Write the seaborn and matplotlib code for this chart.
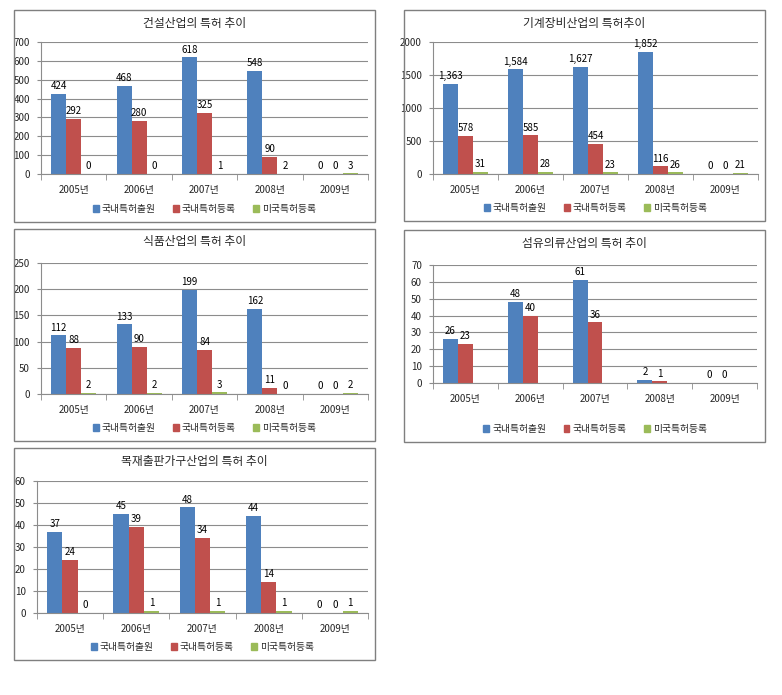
import matplotlib
matplotlib.use("Agg")
import matplotlib.pyplot as plt
import matplotlib.patches as mpatches
import seaborn as sns
import pandas as pd
import numpy as np

sns.set_style("white")
plt.rcParams['font.family'] = ['Noto Sans CJK KR', 'DejaVu Sans']

years = ["2005년", "2006년", "2007년", "2008년", "2009년"]
series = ["국내특허출원", "국내특허등록", "미국특허등록"]
colors = ["#4F81BD", "#C0504D", "#9BBB59"]

# 건설산업
con_app = [424, 468, 618, 548, 0]
con_reg = [292, 280, 325, 90, 0]
con_us = [0, 0, 1, 2, 3]
# 기계장비산업
mach_app = [1363, 1584, 1627, 1852, 0]
mach_reg = [578, 585, 454, 116, 0]
mach_us = [31, 28, 23, 26, 21]
# 식품산업
food_app = [112, 133, 199, 162, 0]
food_reg = [88, 90, 84, 11, 0]
food_us = [2, 2, 3, 0, 2]
# 섬유의류산업 (미국특허등록 없음)
tex_app = [26, 48, 61, 2, 0]
tex_reg = [23, 40, 36, 1, 0]
tex_us = [np.nan] * 5
# 목재출판가구산업
wood_app = [37, 45, 48, 44, 0]
wood_reg = [24, 39, 34, 14, 0]
wood_us = [0, 1, 1, 1, 1]

panels = [
    ("건설산업의 특허 추이", con_app, con_reg, con_us, 700, 100, "{:.0f}"),
    ("기계장비산업의 특허추이", mach_app, mach_reg, mach_us, 2000, 500, "{:,.0f}"),
    ("식품산업의 특허 추이", food_app, food_reg, food_us, 250, 50, "{:.0f}"),
    ("섬유의류산업의 특허 추이", tex_app, tex_reg, tex_us, 70, 10, "{:.0f}"),
    ("목재출판가구산업의 특허 추이", wood_app, wood_reg, wood_us, 60, 10, "{:.0f}"),
]

W, H = 782, 695
# (left, top, right, bottom) in pixels: panel frame, then plot area
frames = [(14, 10, 375, 222), (404, 10, 765, 221), (14, 229, 375, 441),
          (404, 230, 765, 442), (14, 448, 375, 660)]
areas = [(41, 42, 368, 174), (433, 42, 758, 174), (41, 263, 368, 394),
         (433, 265, 757, 383), (37, 481, 368, 613)]

fig = plt.figure(figsize=(W / 100, H / 100), dpi=100)

for i, (title, app, reg, us, ymax, step, fmt) in enumerate(panels):
    fl, ft, fr, fb = frames[i]
    fig.patches.append(mpatches.Rectangle((fl / W, 1 - fb / H), (fr - fl) / W, (fb - ft) / H,
                                          transform=fig.transFigure, fill=False,
                                          edgecolor="#7f7f7f", lw=1.0))
    l, t, r, b = areas[i]
    ax = fig.add_axes([l / W, 1 - b / H, (r - l) / W, (b - t) / H])

    df = pd.DataFrame({
        "year": years * 3,
        "series": [s for s in series for _ in years],
        "value": list(app) + list(reg) + list(us),
    })
    sns.barplot(data=df, x="year", y="value", hue="series", hue_order=series,
                palette=colors, width=0.69, ax=ax, legend=False, saturation=1,
                errorbar=None, linewidth=0)

    for cont in ax.containers:
        ax.bar_label(cont, fmt=fmt, padding=2, fontsize=7, color="black")

    ax.set_ylim(0, ymax)
    ax.set_yticks(np.arange(0, ymax + step, step))
    ax.set_xlim(-0.5, 4.5)
    ax.yaxis.grid(True, color="#8c8c8c", lw=0.8)
    ax.set_axisbelow(True)
    for s in ["top", "right"]:
        ax.spines[s].set_visible(False)
    ax.spines["left"].set_color("#8c8c8c")
    ax.spines["bottom"].set_color("#8c8c8c")
    ax.set_xlabel("")
    ax.set_ylabel("")
    ax.tick_params(axis="y", labelsize=7, length=3, color="#8c8c8c", pad=5, left=True)
    ax.tick_params(axis="x", labelsize=7, length=0, pad=8)
    ax.set_xticks(range(5))
    ax.set_xticklabels(years)
    ax.set_xticks(np.arange(-0.5, 5, 1), minor=True)
    ax.tick_params(axis="x", which="minor", length=4, color="#8c8c8c", bottom=True)

    fig.text((fl + fr) / 2 / W, 1 - (ft + 13) / H, title, ha="center", va="center",
             fontsize=8.5)

    handles = [mpatches.Patch(color=c) for c in colors]
    ax.legend(handles, series, loc="center", ncol=3, frameon=False, fontsize=7,
              bbox_to_anchor=(0.5, -(((fb - 13) - b) / (b - t))),
              handlelength=0.6, handleheight=0.6, handletextpad=0.3, columnspacing=1.8)

fig.savefig("out.png", dpi=100)
